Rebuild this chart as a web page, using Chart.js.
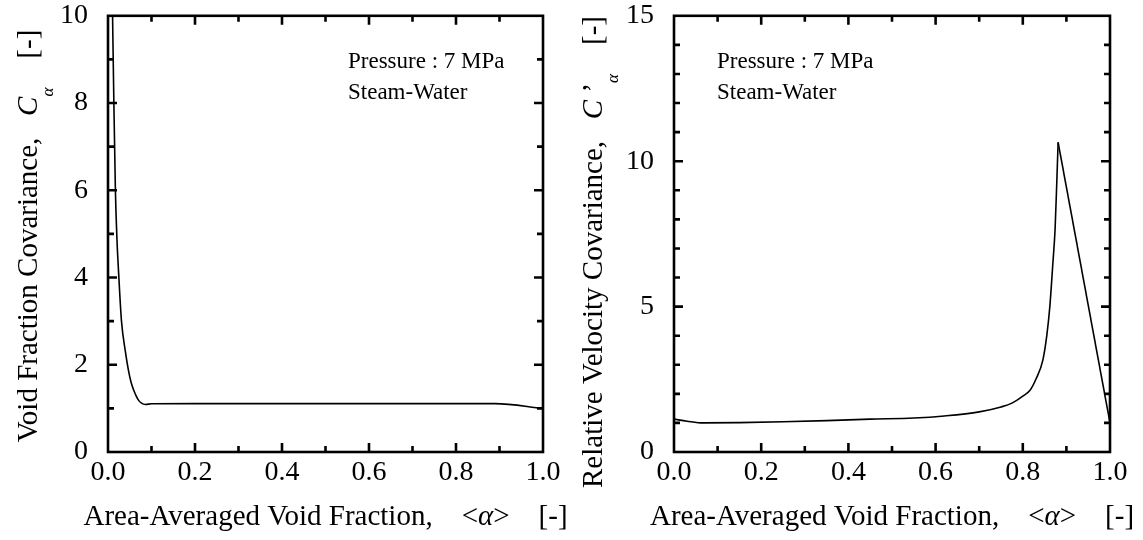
<!DOCTYPE html>
<html>
<head>
<meta charset="utf-8">
<script src="https://cdn.jsdelivr.net/npm/chart.js@4.4.1/dist/chart.umd.min.js"></script>
<style>
  html, body { margin: 0; padding: 0; background: #fff; }
  #wrap { position: relative; width: 1143px; height: 540px; overflow: hidden; }
  /* canvases start above the page edge so the top tick label's reserved
     space does not push the plot frame down */
  #wrap canvas { position: absolute; top: -21px; }
  #cvLeft { left: 0; }
  #cvRight { left: 571px; }
</style>
</head>
<body>
<div id="wrap">
  <canvas id="cvLeft" width="571" height="561"></canvas>
  <canvas id="cvRight" width="572" height="561"></canvas>
</div>
<script>
// void fraction covariance vs area-averaged void fraction
const voidX = [0.0105, 0.0135, 0.017, 0.0205, 0.025, 0.031, 0.04, 0.047, 0.053, 0.059, 0.065, 0.07, 0.077, 0.086, 0.1, 0.2, 0.4, 0.6, 0.8, 0.89, 1.0];
const voidC = [10, 8, 6, 4.9, 4.0, 3.0, 2.3, 1.87, 1.6, 1.42, 1.28, 1.19, 1.12, 1.09, 1.105, 1.11, 1.11, 1.11, 1.11, 1.11, 1.0];

// relative velocity covariance, rising branch up to the peak
const relX = [0, 0.03, 0.067, 0.15, 0.25, 0.35, 0.45, 0.55, 0.62, 0.70, 0.75, 0.775, 0.80, 0.817, 0.83, 0.846, 0.855, 0.862, 0.869, 0.874, 0.878, 0.881];
const relC = [1.13, 1.06, 1.0, 1.01, 1.04, 1.08, 1.13, 1.17, 1.24, 1.38, 1.55, 1.68, 1.92, 2.13, 2.5, 3.16, 4.0, 5.0, 6.5, 7.64, 9.3, 10.65];
// falling branch after the peak
const dropX = [0.881, 1.0];
const dropC = [10.65, 1.0];

const xLabelStep = 0.2;
const leftYMax = 10, leftYStep = 2;
const rightYMax = 15, rightYStep = 5;
const noteLines = ['Pressure : 7 MPa', 'Steam-Water'];

const SERIF = '"Liberation Serif", "Times New Roman", serif';
const SHIFT = 21;   // canvas offset above the page

function pts(xs, ys) { return xs.map((x, i) => ({ x: x, y: ys[i] })); }

// draws a run of text pieces (font, vertical shift) starting at x along the baseline
function drawPieces(ctx, pieces, x, y) {
  let cx = x;
  for (const p of pieces) {
    ctx.font = p.font;
    ctx.fillText(p.text, cx, y + (p.dy || 0));
    cx += ctx.measureText(p.text).width;
  }
}
function piecesWidth(ctx, pieces) {
  let w = 0;
  for (const p of pieces) { ctx.font = p.font; w += ctx.measureText(p.text).width; }
  return w;
}

// frame with inward ticks on all four sides, plus axis titles and note
const framePlugin = {
  id: 'frame',
  afterDraw(chart, args, opts) {
    const { ctx, chartArea: a, scales } = chart;
    const xs = scales.x, ys = scales.y;
    ctx.save();
    ctx.strokeStyle = '#000';
    ctx.lineWidth = 2.6;
    ctx.lineCap = 'butt';
    ctx.strokeRect(a.left, a.top, a.right - a.left, a.bottom - a.top);

    const major = 9, minor = 6;
    ctx.beginPath();
    for (let i = 1; i < 10; i++) {
      const v = i / 10;
      const px = xs.getPixelForValue(v);
      const len = i % 2 === 0 ? major : minor;
      ctx.moveTo(px, a.bottom); ctx.lineTo(px, a.bottom - len);
      ctx.moveTo(px, a.top); ctx.lineTo(px, a.top + len);
    }
    for (let v = 1; v < opts.yMax; v++) {
      const py = ys.getPixelForValue(v);
      const len = v % opts.yStep === 0 ? major : minor;
      ctx.moveTo(a.left, py); ctx.lineTo(a.left + len, py);
      ctx.moveTo(a.right, py); ctx.lineTo(a.right - len, py);
    }
    ctx.stroke();

    // text below is placed in page coordinates
    ctx.translate(0, SHIFT);
    ctx.fillStyle = '#000';
    ctx.textBaseline = 'alphabetic';
    const f = '29px ' + SERIF;
    const fi = 'italic 29px ' + SERIF;
    const fs = 'italic 17px ' + SERIF;

    // x axis title
    const xt = [
      { text: 'Area-Averaged Void Fraction,    <', font: f },
      { text: '\u03b1', font: fi },
      { text: '>    [-]', font: f }
    ];
    const cxm = (a.left + a.right) / 2;
    drawPieces(ctx, xt, cxm - piecesWidth(ctx, xt) / 2, opts.xTitleY);

    // y axis title, rotated
    const yt = [
      { text: opts.yName + ',   ', font: f },
      { text: 'C', font: fi }
    ];
    if (opts.prime) yt.push({ text: ' \u2019', font: f });
    yt.push({ text: '\u03b1', font: fs, dy: 16 });
    yt.push({ text: '    [-]', font: f });
    ctx.save();
    ctx.translate(opts.yTitleX, opts.yTitleMid);
    ctx.rotate(-Math.PI / 2);
    drawPieces(ctx, yt, -piecesWidth(ctx, yt) / 2, 0);
    ctx.restore();

    // condition note
    ctx.font = '23px ' + SERIF;
    noteLines.forEach((t, i) => ctx.fillText(t, opts.noteX, opts.noteY + i * 31));
    ctx.restore();
  }
};

function makeChart(id, datasets, yMax, yStep, extra) {
  return new Chart(document.getElementById(id), {
    type: 'scatter',
    data: { datasets: datasets },
    options: {
      responsive: false,
      animation: false,
      layout: { padding: { top: 0, right: extra.padRight, left: 0, bottom: 0 } },
      plugins: {
        legend: { display: false },
        tooltip: { enabled: false },
        frame: extra.frame
      },
      elements: { point: { radius: 0 } },
      scales: {
        x: {
          type: 'linear', min: 0, max: 1,
          grid: { display: false, drawTicks: false },
          border: { display: false },
          ticks: {
            stepSize: xLabelStep, maxRotation: 0, autoSkip: false,
            color: '#000', padding: 4,
            font: { family: SERIF, size: 28 },
            callback: v => Number(v).toFixed(1)
          },
          afterFit(s) { s.height = 88; }
        },
        y: {
          type: 'linear', min: 0, max: yMax,
          grid: { display: false, drawTicks: false },
          border: { display: false },
          ticks: {
            stepSize: yStep, color: '#000', padding: 20,
            font: { family: SERIF, size: 28 },
            callback: v => String(v)
          },
          afterFit(s) { s.width = extra.yWidth; }
        }
      }
    },
    plugins: [framePlugin]
  });
}

const lineStyle = { showLine: true, borderColor: '#000', borderWidth: 1.6, pointRadius: 0, fill: false };

makeChart('cvLeft', [
  Object.assign({ data: pts(voidX, voidC), cubicInterpolationMode: 'monotone' }, lineStyle)
], leftYMax, leftYStep, {
  padRight: 28, yWidth: 108,
  frame: { yMax: leftYMax, yStep: leftYStep, yName: 'Void Fraction Covariance', prime: false,
           xTitleY: 525, yTitleX: 37, yTitleMid: 236, noteX: 348, noteY: 68 }
});

makeChart('cvRight', [
  Object.assign({ data: pts(relX, relC), cubicInterpolationMode: 'monotone' }, lineStyle),
  Object.assign({ data: pts(dropX, dropC), tension: 0 }, lineStyle)
], rightYMax, rightYStep, {
  padRight: 33, yWidth: 103,
  frame: { yMax: rightYMax, yStep: rightYStep, yName: 'Relative Velocity Covariance', prime: true,
           xTitleY: 525, yTitleX: 31, yTitleMid: 252, noteX: 146, noteY: 68 }
});
</script>
</body>
</html>
